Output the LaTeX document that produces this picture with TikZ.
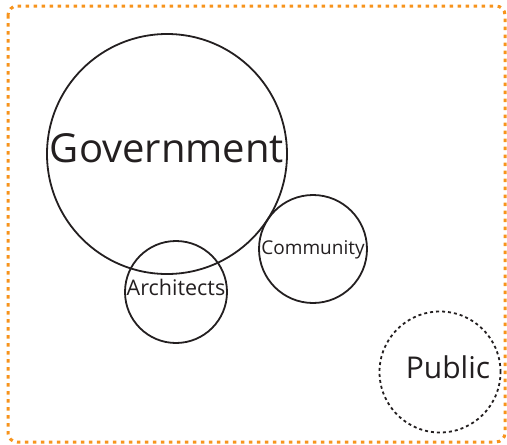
\documentclass[tikz,border=0pt]{standalone}
\usepackage{fontspec}
\setmainfont{Open Sans}
\usetikzlibrary{positioning}
\definecolor{FrameOrange}{HTML}{F7941D}
\definecolor{InkBlack}{HTML}{231F20}

\begin{document}
\begin{tikzpicture}[
    x=1pt,y=-1pt,
    group/.style={circle,draw=InkBlack,line width=1.8pt,inner sep=0pt},
    open group/.style={group,dash pattern=on 3pt off 3pt},
    frame/.style={draw=FrameOrange,line width=3pt,rounded corners=9pt,
      dash pattern=on 3.5pt off 4.5pt}
  ]
    \useasboundingbox (0,0) rectangle (507,445);
    \draw[frame] (8,6) rectangle (505,442);
    \node[group,minimum size=240pt,
      label={[font=\fontsize{40}{40}\selectfont,text=InkBlack,yshift=6pt]center:Government}] (gov) at (167,154) {};
    \node[group,minimum size=102pt,
      label={[font=\fontsize{21.5}{21.5}\selectfont,text=InkBlack,yshift=5pt]center:Architects}] (arch) at (176,292) {};
    \node[group,minimum size=108pt,
      label={[font=\fontsize{19}{19}\selectfont,text=InkBlack,yshift=-1pt]center:Community}] (comm) at (313,249) {};
    \node[open group,minimum size=121pt,
      label={[font=\fontsize{30}{30}\selectfont,text=InkBlack,xshift=8pt,yshift=5pt]center:Public}] (pub) at (440,372) {};
  \end{tikzpicture}
\end{document}
